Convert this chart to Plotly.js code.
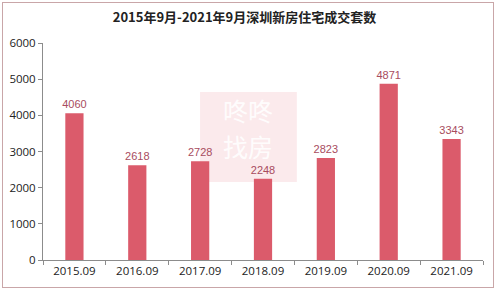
<!DOCTYPE html>
<html><head><meta charset="utf-8">
<script src="https://cdn.plot.ly/plotly-3.0.1.min.js"></script>
<style>
html,body{margin:0;padding:0;background:#fff;}
#frame{position:absolute;left:2px;top:2px;width:492px;height:286px;border:1px solid #c9a6a8;box-sizing:border-box;}
#chart{position:absolute;left:0;top:0;width:499px;height:293px;}
</style></head>
<body>
<div id="chart"></div>
<div id="frame"></div>
<script>
const categories = ["2015.09","2016.09","2017.09","2018.09","2019.09","2020.09","2021.09"];
const values = [4060, 2618, 2728, 2248, 2823, 4871, 3343];
const yTicks = [0,1000,2000,3000,4000,5000,6000];
const titleText = "2015年9月-2021年9月深圳新房住宅成交套数";
const watermarkLines = ["咚咚", "找房"];

const trace = {
  type: "bar",
  x: categories,
  y: values,
  width: 0.29,
  marker: {color: "#db5b6b"},
  text: values.map(String),
  textposition: "outside",
  constraintext: "none",
  cliponaxis: false,
  textfont: {family: "Liberation Sans, Arial, sans-serif", size: 11, color: "#a84c5e"},
  hoverinfo: "none"
};

const layout = {
  width: 499, height: 293,
  margin: {l: 43, r: 16, t: 43, b: 33},
  paper_bgcolor: "#fff", plot_bgcolor: "#fff",
  title: {text: "<b>" + titleText + "</b>", x: 0.49, xanchor: "center", y: 0.94, yanchor: "middle",
          font: {family: "Noto Sans CJK SC, Noto Sans, sans-serif", size: 13, color: "#222"}},
  showlegend: false,
  bargap: 0.7,
  xaxis: {
    type: "category",
    showline: true, linecolor: "#8c8c8c", linewidth: 1,
    ticks: "outside", tickson: "boundaries", ticklen: 4, tickcolor: "#8c8c8c",
    showgrid: false, zeroline: false,
    tickfont: {family: "Open Sans, Liberation Sans, sans-serif", size: 11.5, color: "#222"},
    range: [-0.5, 6.5]
  },
  yaxis: {
    range: [0, 6000],
    tickvals: yTicks,
    ticktext: yTicks.map(String),
    showline: true, linecolor: "#8c8c8c", linewidth: 1,
    ticks: "outside", ticklen: 4, tickcolor: "#8c8c8c",
    showgrid: false, zeroline: false,
    tickfont: {family: "Open Sans, Liberation Sans, sans-serif", size: 11.5, color: "#222"}
  },
  shapes: [{
    type: "rect", xref: "paper", yref: "paper",
    x0: 0.357, x1: 0.577, y0: 0.36, y1: 0.774,
    fillcolor: "rgba(235,150,160,0.20)", line: {width: 0}, layer: "below"
  }],
  annotations: [
    {text: watermarkLines[0], xref: "paper", yref: "paper", x: 0.467, y: 0.69,
     xanchor: "center", yanchor: "middle", showarrow: false,
     font: {family: "Noto Sans CJK SC", size: 25, color: "rgba(255,255,255,0.9)"}},
    {text: watermarkLines[1], xref: "paper", yref: "paper", x: 0.467, y: 0.525,
     xanchor: "center", yanchor: "middle", showarrow: false,
     font: {family: "Noto Sans CJK SC", size: 25, color: "rgba(255,255,255,0.9)"}}
  ]
};

Plotly.newPlot("chart", [trace], layout, {displayModeBar: false, staticPlot: true});
</script>
</body></html>
